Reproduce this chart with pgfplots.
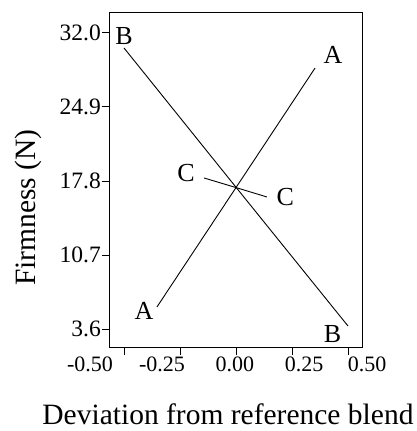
\documentclass[border=0pt]{standalone}
\usepackage{fontspec}
\setmainfont{Liberation Serif}
\usepackage{pgfplots}
\pgfplotsset{compat=1.18}

% shift a tick label sideways, keeping its node centred on the tick
\newcommand\sh[2]{\hspace*{#1}\makebox[0pt]{#2}\hspace*{-#1}}

\begin{document}
\begin{tikzpicture}
\begin{axis}[
    scale only axis,
    width=252pt, height=334pt,
    xmin=-0.5625, xmax=0.5625,
    ymin=1.90, ymax=33.89,
    axis line style={line width=1pt},
    tick align=outside,
    xtick pos=left, ytick pos=left,
    major tick length=8pt,
    tick style={line width=0.9pt, black},
    xtick={-0.5,-0.25,0,0.25,0.5},
    xticklabels={\sh{-34pt}{-0.50},\sh{-18pt}{-0.25},\sh{-1pt}{0.00},\sh{12pt}{0.25},\sh{19pt}{0.50}},
    ytick={3.6,10.7,17.8,24.9,32.0},
    yticklabels={3.6,10.7,17.8,24.9,32.0},
    xticklabel style={inner sep=2pt, font=\fontsize{22}{24}\selectfont},
    yticklabel style={inner sep=1pt, font=\fontsize{23.5}{26}\selectfont},
    xlabel={Deviation from reference blend},
    ylabel={Firmness (N)},
    label style={font=\fontsize{29.5}{33}\selectfont},
    xlabel style={at={(axis description cs:0.468,-0.2335)}, anchor=base},
    ylabel style={at={(axis description cs:-0.2976,0.4177)}, anchor=base},
]
\addplot[black, line width=0.9pt] coordinates {
    (-0.353, 5.73) (0.0, 17.17) (0.353, 28.62)
} node[pos=0, xshift=-13pt, yshift=-4pt, font=\fontsize{26}{28}\selectfont] {A}
  node[pos=1, xshift=18pt, yshift=13.5pt, font=\fontsize{26}{28}\selectfont] {A};
\addplot[black, line width=0.9pt] coordinates {
    (-0.5, 30.54) (0.0, 17.2) (0.5, 3.91)
} node[pos=0, xshift=0pt, yshift=12pt, font=\fontsize{26}{28}\selectfont] {B}
  node[pos=1, xshift=-15.5pt, yshift=-8.5pt, font=\fontsize{26}{28}\selectfont] {B};
\addplot[black, line width=0.9pt] coordinates {
    (-0.143, 18.09) (0.0, 17.17) (0.138, 16.27)
} node[pos=0, xshift=-18pt, yshift=4.5pt, font=\fontsize{26}{28}\selectfont] {C}
  node[pos=1, xshift=18.5pt, yshift=-0.5pt, font=\fontsize{26}{28}\selectfont] {C};
\end{axis}
\path ([xshift=-110pt,yshift=13pt]current axis.north west)
  rectangle ([xshift=54pt,yshift=-84pt]current axis.south east);
\end{tikzpicture}
\end{document}
